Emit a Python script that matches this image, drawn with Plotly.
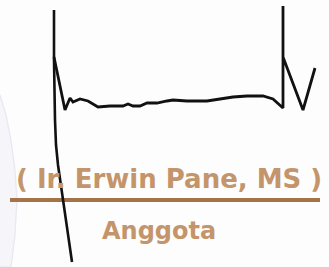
import plotly.graph_objects as go

W, H = 329, 267

# Signature strokes (image pixel coordinates, y downward)
stroke1_x = [54, 54, 55, 56, 58, 63, 68, 72]
stroke1_y = [10, 60, 120, 145, 165, 200, 235, 262]

stroke2_x = [54, 60, 65, 70, 73, 80, 88, 98, 110, 123, 128, 133, 140, 147, 157, 167, 173,
             187, 207, 220, 233, 247, 263, 273, 283, 283, 283, 303, 315]
stroke2_y = [57, 85, 110, 98, 102, 99, 101, 107, 106, 106, 104, 106, 106, 103, 103, 101, 100,
             101, 101, 99, 97, 96, 96, 99, 108, 6, 57, 110, 68]

# faint watermark arc at left edge
arc_x = [0, 6, 11, 15, 17, 15, 11, 0]
arc_y = [95, 115, 140, 170, 200, 235, 267, 267]

name_text = "( Ir. Erwin Pane, MS )"
role_text = "Anggota"

underline_x = [10, 320]
underline_y = [200, 200]

fig = go.Figure()

fig.add_trace(go.Scatter(x=arc_x, y=arc_y, mode="lines", fill="toself",
                         fillcolor="rgba(238,238,248,0.5)",
                         line=dict(color="rgba(215,215,230,0.5)", width=1.2), hoverinfo="skip"))

fig.add_trace(go.Scatter(x=underline_x, y=underline_y, mode="lines",
                         line=dict(color="#a27448", width=4), hoverinfo="skip"))

fig.add_trace(go.Scatter(x=stroke1_x, y=stroke1_y, mode="lines",
                         line=dict(color="#111111", width=2.6), hoverinfo="skip"))
fig.add_trace(go.Scatter(x=stroke2_x, y=stroke2_y, mode="lines",
                         line=dict(color="#111111", width=2.8), hoverinfo="skip"))

fig.add_annotation(x=169, y=179, text="<b>" + name_text + "</b>", showarrow=False,
                   xanchor="center", yanchor="middle",
                   font=dict(family="DejaVu Sans", size=26, color="#c4946a"))
fig.add_annotation(x=159, y=231, text="<b>" + role_text + "</b>", showarrow=False,
                   xanchor="center", yanchor="middle",
                   font=dict(family="DejaVu Sans", size=24, color="#c4946a"))

fig.update_layout(
    width=W, height=H, margin=dict(l=0, r=0, t=0, b=0),
    paper_bgcolor="#fdfdfd", plot_bgcolor="#fdfdfd", showlegend=False,
    xaxis=dict(range=[0, W], visible=False, fixedrange=True),
    yaxis=dict(range=[H, 0], visible=False, fixedrange=True),
)

fig.write_html("out.html", config={"displayModeBar": False},
               post_script="document.body.style.margin='0';document.body.style.overflow='hidden';")
